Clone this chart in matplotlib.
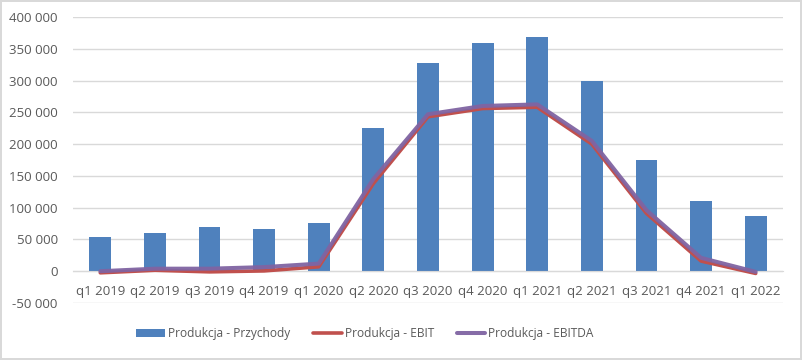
import matplotlib.pyplot as plt
import numpy as np
from matplotlib.ticker import FuncFormatter

quarters = ['q1 2019', 'q2 2019', 'q3 2019', 'q4 2019', 'q1 2020', 'q2 2020', 'q3 2020',
            'q4 2020', 'q1 2021', 'q2 2021', 'q3 2021', 'q4 2021', 'q1 2022']
przychody = [54000, 60000, 69000, 66000, 75500, 225000, 327500, 359000, 368500, 299000, 175000, 110000, 86500]
ebit = [-2500, 1500, -1000, 500, 7000, 138000, 243000, 256000, 258000, 200000, 91000, 16000, -3500]
ebitda = [0, 4000, 4000, 6500, 12000, 145000, 247000, 260000, 262500, 205000, 96000, 21000, -1000]

plt.rcParams['font.family'] = ['Open Sans', 'DejaVu Sans']
text_color = '#595959'
grid_color = '#D9D9D9'

fig = plt.figure(figsize=(8.02, 3.6), dpi=100)
fig.patch.set_edgecolor('#D9D9D9')
fig.patch.set_linewidth(1.5)
ax = fig.add_axes([73 / 802, 1 - 303 / 360, 710 / 802, 286 / 360])

x = np.arange(len(quarters))
bars = ax.bar(x, przychody, width=0.4, color='#4F81BD', label='Produkcja - Przychody', zorder=2)
l1, = ax.plot(x, ebit, color='#C0504D', lw=2.6, label='Produkcja - EBIT', zorder=3,
              solid_joinstyle='round', solid_capstyle='round')
l2, = ax.plot(x, ebitda, color='#8064A2', lw=2.9, label='Produkcja - EBITDA', zorder=4,
              solid_joinstyle='round', solid_capstyle='round', alpha=0.95)

ax.set_xlim(-0.5, len(quarters) - 0.5)
ax.set_ylim(-50000, 400000)
ax.set_yticks(np.arange(-50000, 400001, 50000))
ax.yaxis.set_major_formatter(FuncFormatter(lambda v, p: f'{int(v):,}'.replace(',', ' ')))
ax.grid(axis='y', color=grid_color, lw=1, zorder=0)
ax.set_axisbelow(True)

for s in ['top', 'right', 'left']:
    ax.spines[s].set_visible(False)
ax.spines['bottom'].set_position(('data', 0))
ax.spines['bottom'].set_color(grid_color)
ax.set_xticks(x)
ax.set_xticklabels(quarters)
ax.tick_params(axis='x', length=0, pad=10, labelsize=9.5, colors=text_color)
ax.tick_params(axis='y', length=0, pad=11, labelsize=9.5, colors=text_color)

fig.legend(handles=[bars, l1, l2], loc='center', bbox_to_anchor=(365 / 802, 1 - 334 / 360), ncol=3,
           frameon=False, fontsize=8.6, labelcolor=text_color, handlelength=2.4,
           handleheight=0.6, handletextpad=0.25, columnspacing=1.9)

fig.savefig('out.png', dpi=100)
